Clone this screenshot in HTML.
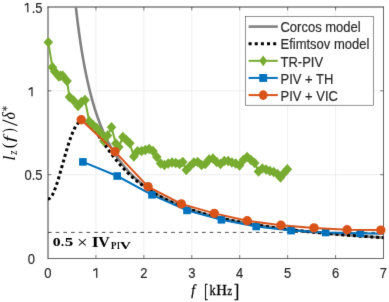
<!DOCTYPE html>
<html><head><meta charset="utf-8"><style>
html,body{margin:0;padding:0;background:#fff;}
body{width:389px;height:302px;overflow:hidden;}
svg{display:block;will-change:transform;}
text{font-family:"Liberation Sans",sans-serif;font-size:13px;fill:#262626;stroke:#262626;stroke-width:0.15px;}
</style></head><body><div>
<svg width="389" height="302" viewBox="0 0 389 302">
<defs><filter id="bl" x="0" y="0" width="1" height="1" color-interpolation-filters="sRGB"><feConvolveMatrix order="3" kernelMatrix="0.01 0.07 0.01 0.07 0.68 0.07 0.01 0.07 0.01" divisor="1" edgeMode="duplicate"/></filter><clipPath id="ax"><rect x="48.0" y="7.0" width="335.5" height="251.5"/></clipPath></defs>
<g filter="url(#bl)"><rect width="389" height="302" fill="#fff"/>
<g stroke="#e4e4e4" stroke-width="0.6"><line x1="95.93" y1="7.0" x2="95.93" y2="258.5"/><line x1="143.86" y1="7.0" x2="143.86" y2="258.5"/><line x1="191.79" y1="7.0" x2="191.79" y2="258.5"/><line x1="239.71" y1="7.0" x2="239.71" y2="258.5"/><line x1="287.64" y1="7.0" x2="287.64" y2="258.5"/><line x1="335.57" y1="7.0" x2="335.57" y2="258.5"/><line x1="48.0" y1="174.67" x2="383.5" y2="174.67"/><line x1="48.0" y1="90.83" x2="383.5" y2="90.83"/></g>
<g stroke="#262626" stroke-width="0.6"><line x1="95.93" y1="258.5" x2="95.93" y2="255.1"/><line x1="95.93" y1="7.0" x2="95.93" y2="10.4"/><line x1="143.86" y1="258.5" x2="143.86" y2="255.1"/><line x1="143.86" y1="7.0" x2="143.86" y2="10.4"/><line x1="191.79" y1="258.5" x2="191.79" y2="255.1"/><line x1="191.79" y1="7.0" x2="191.79" y2="10.4"/><line x1="239.71" y1="258.5" x2="239.71" y2="255.1"/><line x1="239.71" y1="7.0" x2="239.71" y2="10.4"/><line x1="287.64" y1="258.5" x2="287.64" y2="255.1"/><line x1="287.64" y1="7.0" x2="287.64" y2="10.4"/><line x1="335.57" y1="258.5" x2="335.57" y2="255.1"/><line x1="335.57" y1="7.0" x2="335.57" y2="10.4"/><line x1="48.0" y1="174.67" x2="51.4" y2="174.67"/><line x1="383.5" y1="174.67" x2="380.1" y2="174.67"/><line x1="48.0" y1="90.83" x2="51.4" y2="90.83"/><line x1="383.5" y1="90.83" x2="380.1" y2="90.83"/></g>
<g stroke="#262626"><line x1="48.0" y1="6.6" x2="48.0" y2="258.75" stroke-width="0.9"/><line x1="47.6" y1="7.0" x2="383.75" y2="7.0" stroke-width="0.9"/><line x1="383.5" y1="6.6" x2="383.5" y2="258.75" stroke-width="0.7"/><line x1="47.6" y1="258.5" x2="383.75" y2="258.5" stroke-width="0.7"/></g>
<g clip-path="url(#ax)" fill="none">
<polyline points="71.96,-33.91 72.77,-24.41 73.57,-15.51 74.38,-7.15 75.18,0.72 75.99,8.13 76.79,15.13 77.60,21.75 78.40,28.01 79.21,33.96 80.01,39.60 80.82,44.97 81.62,50.08 82.43,54.96 83.23,59.60 84.04,64.05 84.84,68.29 85.65,72.36 86.45,76.26 87.26,79.99 88.06,83.58 88.87,87.02 89.67,90.34 90.48,93.52 91.28,96.59 92.08,99.55 92.89,102.40 93.69,105.15 94.50,107.80 95.30,110.36 96.11,112.84 96.91,115.24 97.72,117.56 98.52,119.80 99.33,121.98 100.13,124.09 100.94,126.13 101.74,128.11 102.55,130.04 103.35,131.90 104.16,133.72 104.96,135.48 105.77,137.19 106.57,138.86 107.38,140.48 108.18,142.06 108.99,143.60 109.79,145.09 110.60,146.55 111.40,147.97 112.21,149.36 113.01,150.71 113.81,152.03 114.62,153.31 115.42,154.57 116.23,155.80 117.03,156.99 117.84,158.16 118.64,159.31 119.45,160.42 120.25,161.52 121.06,162.58 121.86,163.63 122.67,164.65 123.47,165.65 124.28,166.63 125.08,167.59 125.89,168.53 126.69,169.45 127.50,170.35 128.30,171.24 129.11,172.10 129.91,172.95 130.72,173.78 131.52,174.60 132.33,175.40 133.13,176.19 133.94,176.96 134.74,177.71 135.54,178.46 136.35,179.19 137.15,179.90 137.96,180.60 138.76,181.30 139.57,181.97 140.37,182.64 141.18,183.30 141.98,183.94 142.79,184.57 143.59,185.20 144.40,185.81 145.20,186.41 146.01,187.00 146.81,187.58 147.62,188.16 148.42,188.72 149.23,189.27 150.03,189.82 150.84,190.36 151.64,190.89 152.45,191.41 153.25,191.92 154.06,192.43 154.86,192.92 155.67,193.41 156.47,193.90 157.27,194.37 158.08,194.84 158.88,195.30 159.69,195.76 160.49,196.21 161.30,196.65 162.10,197.09 162.91,197.52 163.71,197.94 164.52,198.36 165.32,198.77 166.13,199.18 166.93,199.58 167.74,199.98 168.54,200.37 169.35,200.75 170.15,201.13 170.96,201.51 171.76,201.88 172.57,202.25 173.37,202.61 174.18,202.96 174.98,203.32 175.79,203.66 176.59,204.01 177.40,204.34 178.20,204.68 179.00,205.01 179.81,205.34 180.61,205.66 181.42,205.98 182.22,206.29 183.03,206.60 183.83,206.91 184.64,207.22 185.44,207.52 186.25,207.81 187.05,208.11 187.86,208.40 188.66,208.68 189.47,208.97 190.27,209.25 191.08,209.52 191.88,209.80 192.69,210.07 193.49,210.34 194.30,210.60 195.10,210.86 195.91,211.12 196.71,211.38 197.52,211.63 198.32,211.88 199.13,212.13 199.93,212.38 200.73,212.62 201.54,212.86 202.34,213.10 203.15,213.33 203.95,213.57 204.76,213.80 205.56,214.03 206.37,214.25 207.17,214.48 207.98,214.70 208.78,214.92 209.59,215.13 210.39,215.35 211.20,215.56 212.00,215.77 212.81,215.98 213.61,216.19 214.42,216.39 215.22,216.60 216.03,216.80 216.83,216.99 217.64,217.19 218.44,217.39 219.25,217.58 220.05,217.77 220.86,217.96 221.66,218.15 222.46,218.33 223.27,218.52 224.07,218.70 224.88,218.88 225.68,219.06 226.49,219.24 227.29,219.42 228.10,219.59 228.90,219.76 229.71,219.94 230.51,220.11 231.32,220.27 232.12,220.44 232.93,220.61 233.73,220.77 234.54,220.93 235.34,221.10 236.15,221.26 236.95,221.41 237.76,221.57 238.56,221.73 239.37,221.88 240.17,222.04 240.98,222.19 241.78,222.34 242.59,222.49 243.39,222.64 244.19,222.78 245.00,222.93 245.80,223.07 246.61,223.22 247.41,223.36 248.22,223.50 249.02,223.64 249.83,223.78 250.63,223.92 251.44,224.06 252.24,224.19 253.05,224.33 253.85,224.46 254.66,224.59 255.46,224.72 256.27,224.85 257.07,224.98 257.88,225.11 258.68,225.24 259.49,225.37 260.29,225.49 261.10,225.62 261.90,225.74 262.71,225.86 263.51,225.98 264.32,226.11 265.12,226.23 265.92,226.34 266.73,226.46 267.53,226.58 268.34,226.70 269.14,226.81 269.95,226.93 270.75,227.04 271.56,227.16 272.36,227.27 273.17,227.38 273.97,227.49 274.78,227.60 275.58,227.71 276.39,227.82 277.19,227.93 278.00,228.03 278.80,228.14 279.61,228.24 280.41,228.35 281.22,228.45 282.02,228.56 282.83,228.66 283.63,228.76 284.44,228.86 285.24,228.96 286.05,229.06 286.85,229.16 287.65,229.26 288.46,229.36 289.26,229.46 290.07,229.55 290.87,229.65 291.68,229.74 292.48,229.84 293.29,229.93 294.09,230.03 294.90,230.12 295.70,230.21 296.51,230.30 297.31,230.39 298.12,230.48 298.92,230.57 299.73,230.66 300.53,230.75 301.34,230.84 302.14,230.93 302.95,231.01 303.75,231.10 304.56,231.19 305.36,231.27 306.17,231.36 306.97,231.44 307.78,231.53 308.58,231.61 309.38,231.69 310.19,231.77 310.99,231.86 311.80,231.94 312.60,232.02 313.41,232.10 314.21,232.18 315.02,232.26 315.82,232.34 316.63,232.41 317.43,232.49 318.24,232.57 319.04,232.65 319.85,232.72 320.65,232.80 321.46,232.87 322.26,232.95 323.07,233.02 323.87,233.10 324.68,233.17 325.48,233.25 326.29,233.32 327.09,233.39 327.90,233.46 328.70,233.54 329.51,233.61 330.31,233.68 331.11,233.75 331.92,233.82 332.72,233.89 333.53,233.96 334.33,234.03 335.14,234.10 335.94,234.16 336.75,234.23 337.55,234.30 338.36,234.37 339.16,234.43 339.97,234.50 340.77,234.57 341.58,234.63 342.38,234.70 343.19,234.76 343.99,234.83 344.80,234.89 345.60,234.95 346.41,235.02 347.21,235.08 348.02,235.14 348.82,235.21 349.63,235.27 350.43,235.33 351.24,235.39 352.04,235.45 352.84,235.51 353.65,235.57 354.45,235.63 355.26,235.69 356.06,235.75 356.87,235.81 357.67,235.87 358.48,235.93 359.28,235.99 360.09,236.05 360.89,236.10 361.70,236.16 362.50,236.22 363.31,236.28 364.11,236.33 364.92,236.39 365.72,236.44 366.53,236.50 367.33,236.56 368.14,236.61 368.94,236.67 369.75,236.72 370.55,236.78 371.36,236.83 372.16,236.88 372.97,236.94 373.77,236.99 374.57,237.04 375.38,237.10 376.18,237.15 376.99,237.20 377.79,237.25 378.60,237.30 379.40,237.36 380.21,237.41 381.01,237.46 381.82,237.51 382.62,237.56 383.43,237.61 384.23,237.66 385.04,237.71 385.84,237.76 386.65,237.81 387.45,237.86 388.26,237.91 389.06,237.95 389.87,238.00 390.67,238.05 391.48,238.10 392.28,238.15 393.09,238.19" stroke="#808080" stroke-width="2.6"/>
<polyline points="48.00,198.95 48.24,198.94 48.48,198.90 48.72,198.83 48.96,198.74 49.20,198.63 49.44,198.49 49.68,198.32 49.92,198.13 50.16,197.92 50.40,197.68 50.64,197.42 50.89,197.13 51.13,196.82 51.37,196.49 51.61,196.13 51.85,195.75 52.09,195.36 52.33,194.94 52.57,194.49 52.81,194.03 53.05,193.55 53.29,193.05 53.53,192.53 53.77,192.00 54.01,191.44 54.25,190.87 54.49,190.28 54.73,189.68 54.97,189.06 55.21,188.43 55.45,187.78 55.69,187.11 55.93,186.44 56.18,185.75 56.42,185.05 56.66,184.33 56.90,183.61 57.14,182.87 57.38,182.12 57.62,181.37 57.86,180.60 58.10,179.83 58.34,179.04 58.58,178.25 58.82,177.45 59.06,176.65 59.30,175.84 59.54,175.02 59.78,174.19 60.02,173.36 60.26,172.53 60.50,171.69 60.74,170.85 60.98,170.00 61.22,169.15 61.46,168.30 61.71,167.45 61.95,166.59 62.19,165.73 62.43,164.88 62.67,164.02 62.91,163.16 63.15,162.30 63.39,161.44 63.63,160.58 63.87,159.73 64.11,158.87 64.35,158.02 64.59,157.17 64.83,156.32 65.07,155.48 65.31,154.64 65.55,153.80 65.79,152.97 66.03,152.15 66.27,151.33 66.51,150.51 66.75,149.70 67.00,148.89 67.24,148.10 67.48,147.31 67.72,146.52 67.96,145.75 68.20,144.98 68.44,144.22 68.68,143.47 68.92,142.72 69.16,141.99 69.40,141.27 69.64,140.55 69.88,139.85 70.12,139.15 70.36,138.47 70.60,137.80 70.84,137.13 71.08,136.48 71.32,135.84 71.56,135.22 71.80,134.60 72.04,134.00 72.28,133.40 72.53,132.82 72.77,132.26 73.01,131.70 73.25,131.16 73.49,130.64 73.73,130.12 73.97,129.62 74.21,129.13 74.45,128.66 74.69,128.20 74.93,127.75 75.17,127.32 75.41,126.90 75.65,126.50 75.89,126.11 76.13,125.73 76.37,125.37 76.61,125.02 76.85,124.69 77.09,124.37 77.33,124.06 77.57,123.77 77.82,123.49 78.06,123.23 78.30,122.98 78.54,122.74 78.78,122.52 79.02,122.31 79.26,122.11 79.50,121.93 79.74,121.76 79.98,121.61 80.22,121.47 80.46,121.34 80.70,121.22 80.94,121.12 81.18,121.03 81.42,120.95 81.66,120.88 81.90,120.83 82.14,120.78 82.38,120.75 82.62,120.73 82.86,120.73 83.10,120.73 83.35,120.74 83.59,120.77 83.83,120.81 84.07,120.85 84.31,120.91 84.55,120.98 84.79,121.05 85.03,121.14 85.27,121.23 85.51,121.34 85.75,121.45 85.99,121.58 86.23,121.71 86.47,121.85 86.71,122.00 86.95,122.15 87.19,122.32 87.43,122.49 87.67,122.67 87.91,122.85 88.15,123.05 88.39,123.25 88.64,123.46 88.88,123.67 89.12,123.89 89.36,124.11 89.60,124.35 89.84,124.58 90.08,124.83 90.32,125.07 90.56,125.33 90.80,125.59 91.04,125.85 91.28,126.12 91.52,126.39 91.76,126.67 92.00,126.95 92.24,127.23 92.48,127.52 92.72,127.82 92.96,128.11 93.20,128.41 93.44,128.71 93.68,129.02 93.92,129.33 94.17,129.64 94.41,129.96 94.65,130.27 94.89,130.59 95.13,130.92 95.37,131.24 95.61,131.57 95.85,131.90 96.09,132.23 96.33,132.56 96.57,132.89 96.81,133.23 97.05,133.57 97.29,133.90 97.53,134.24 97.77,134.59 98.01,134.93 98.25,135.27 98.49,135.61 98.73,135.96 98.97,136.31 99.21,136.65 99.46,137.00 99.70,137.35 99.94,137.70 100.18,138.04 100.42,138.39 100.66,138.74 100.90,139.09 101.14,139.44 101.38,139.79 101.62,140.14 101.86,140.49 102.10,140.84 102.34,141.19 102.58,141.54 102.82,141.89 103.06,142.24 103.30,142.59 103.54,142.93 103.78,143.28 104.02,143.63 104.26,143.98 104.50,144.32 104.74,144.67 104.99,145.01 105.23,145.36 105.47,145.70 105.71,146.05 105.95,146.39 106.19,146.73 106.43,147.07 106.67,147.41 106.91,147.75 107.15,148.09 107.39,148.43 107.63,148.76 107.87,149.10 108.11,149.43 108.35,149.77 108.59,150.10 108.83,150.43 109.07,150.76 109.31,151.09 109.55,151.42 109.79,151.75 110.03,152.08 110.28,152.40 110.52,152.73 110.76,153.05 111.00,153.37 111.24,153.69 111.48,154.01 111.72,154.33 111.96,154.65 112.20,154.97 112.44,155.28 112.68,155.59 112.92,155.91 113.16,156.22 113.40,156.53 113.64,156.84 113.88,157.15 114.12,157.45 114.36,157.76 114.60,158.06 114.84,158.37 115.08,158.67 115.32,158.97 115.56,159.27 115.81,159.56 116.05,159.86 116.29,160.16 116.53,160.45 116.77,160.74 117.01,161.03 117.25,161.32 117.49,161.61 117.73,161.90 117.97,162.19 118.21,162.47 118.45,162.76 118.69,163.04 118.93,163.32 119.17,163.60 119.41,163.88 119.65,164.16 119.89,164.43 121.27,165.99 122.64,167.50 124.01,168.98 125.38,170.41 126.76,171.81 128.13,173.17 129.50,174.49 130.88,175.78 132.25,177.03 133.62,178.26 134.99,179.44 136.37,180.60 137.74,181.73 139.11,182.82 140.49,183.89 141.86,184.93 143.23,185.95 144.60,186.94 145.98,187.90 147.35,188.84 148.72,189.76 150.10,190.65 151.47,191.52 152.84,192.37 154.21,193.20 155.59,194.01 156.96,194.81 158.33,195.58 159.70,196.33 161.08,197.07 162.45,197.79 163.82,198.50 165.20,199.19 166.57,199.86 167.94,200.52 169.31,201.17 170.69,201.80 172.06,202.42 173.43,203.02 174.81,203.61 176.18,204.19 177.55,204.76 178.92,205.32 180.30,205.86 181.67,206.40 183.04,206.92 184.42,207.43 185.79,207.94 187.16,208.43 188.53,208.92 189.91,209.39 191.28,209.86 192.65,210.32 194.03,210.77 195.40,211.21 196.77,211.64 198.14,212.07 199.52,212.48 200.89,212.89 202.26,213.30 203.64,213.69 205.01,214.08 206.38,214.47 207.75,214.84 209.13,215.21 210.50,215.58 211.87,215.93 213.25,216.28 214.62,216.63 215.99,216.97 217.36,217.31 218.74,217.64 220.11,217.96 221.48,218.28 222.85,218.60 224.23,218.90 225.60,219.21 226.97,219.51 228.35,219.81 229.72,220.10 231.09,220.38 232.46,220.67 233.84,220.95 235.21,221.22 236.58,221.49 237.96,221.76 239.33,222.02 240.70,222.28 242.07,222.54 243.45,222.79 244.82,223.04 246.19,223.28 247.57,223.52 248.94,223.76 250.31,224.00 251.68,224.23 253.06,224.46 254.43,224.68 255.80,224.91 257.18,225.13 258.55,225.34 259.92,225.56 261.29,225.77 262.67,225.98 264.04,226.18 265.41,226.39 266.79,226.59 268.16,226.79 269.53,226.98 270.90,227.18 272.28,227.37 273.65,227.56 275.02,227.75 276.40,227.93 277.77,228.11 279.14,228.29 280.51,228.47 281.89,228.65 283.26,228.82 284.63,228.99 286.01,229.16 287.38,229.33 288.75,229.50 290.12,229.66 291.50,229.82 292.87,229.98 294.24,230.14 295.61,230.30 296.99,230.46 298.36,230.61 299.73,230.76 301.11,230.91 302.48,231.06 303.85,231.21 305.22,231.35 306.60,231.50 307.97,231.64 309.34,231.78 310.72,231.92 312.09,232.06 313.46,232.19 314.83,232.33 316.21,232.46 317.58,232.60 318.95,232.73 320.33,232.86 321.70,232.99 323.07,233.11 324.44,233.24 325.82,233.36 327.19,233.49 328.56,233.61 329.94,233.73 331.31,233.85 332.68,233.97 334.05,234.09 335.43,234.20 336.80,234.32 338.17,234.43 339.55,234.55 340.92,234.66 342.29,234.77 343.66,234.88 345.04,234.99 346.41,235.10 347.78,235.20 349.16,235.31 350.53,235.42 351.90,235.52 353.27,235.62 354.65,235.73 356.02,235.83 357.39,235.93 358.77,236.03 360.14,236.13 361.51,236.22 362.88,236.32 364.26,236.42 365.63,236.51 367.00,236.61 368.37,236.70 369.75,236.79 371.12,236.89 372.49,236.98 373.87,237.07 375.24,237.16 376.61,237.25 377.98,237.34 379.36,237.42 380.73,237.51 382.10,237.60 383.48,237.68 384.85,237.77 386.22,237.85 387.59,237.93 388.97,238.02 390.34,238.10 391.71,238.18 393.09,238.26" stroke="#000" stroke-width="3" stroke-dasharray="3 2.83" stroke-dashoffset="0.37"/>
</g>
<line x1="48.0" y1="232.4" x2="383.5" y2="232.4" stroke="#333" stroke-width="0.9" stroke-dasharray="3.6 4.1"/>
<polyline points="48.30,42.20 52.40,67.20 54.70,71.60 58.90,76.40 60.80,75.80 62.80,75.90 67.00,81.00 69.50,97.00 73.50,100.50 78.00,106.00 81.50,102.00 85.00,100.00 89.20,121.20 93.00,125.00 96.80,128.00 100.50,133.00 103.80,141.00 107.50,135.50 111.50,127.20 115.80,143.50 118.80,147.00 122.90,137.00 126.30,140.00 129.80,143.30 133.80,156.50 137.50,151.30 141.60,151.00 145.40,150.00 149.20,149.00 153.00,151.00 156.80,157.00 160.60,163.50 164.40,165.00 168.20,163.50 172.00,162.50 175.80,163.00 179.60,164.00 182.80,162.00 186.30,170.00 190.10,166.00 193.90,162.50 197.70,162.00 201.50,165.00 205.30,164.00 209.10,159.50 212.90,158.50 216.70,162.00 220.50,164.00 224.30,161.00 228.10,161.00 231.90,162.50 235.70,163.50 239.50,165.50 243.30,160.00 247.10,157.00 250.90,160.00 254.70,163.00 258.50,171.50 262.30,168.50 266.10,169.50 269.90,171.00 273.70,172.00 277.50,174.00 280.50,177.50 284.00,173.00 287.30,169.30" fill="none" stroke="#77AC30" stroke-width="2"/>
<g fill="#77AC30"><path d="M48.30 36.90L53.10 42.20L48.30 47.50L43.50 42.20Z"/><path d="M52.40 61.90L57.20 67.20L52.40 72.50L47.60 67.20Z"/><path d="M54.70 66.30L59.50 71.60L54.70 76.90L49.90 71.60Z"/><path d="M58.90 71.10L63.70 76.40L58.90 81.70L54.10 76.40Z"/><path d="M60.80 70.50L65.60 75.80L60.80 81.10L56.00 75.80Z"/><path d="M62.80 70.60L67.60 75.90L62.80 81.20L58.00 75.90Z"/><path d="M67.00 75.70L71.80 81.00L67.00 86.30L62.20 81.00Z"/><path d="M69.50 91.70L74.30 97.00L69.50 102.30L64.70 97.00Z"/><path d="M73.50 95.20L78.30 100.50L73.50 105.80L68.70 100.50Z"/><path d="M78.00 100.70L82.80 106.00L78.00 111.30L73.20 106.00Z"/><path d="M81.50 96.70L86.30 102.00L81.50 107.30L76.70 102.00Z"/><path d="M85.00 94.70L89.80 100.00L85.00 105.30L80.20 100.00Z"/><path d="M89.20 115.90L94.00 121.20L89.20 126.50L84.40 121.20Z"/><path d="M93.00 119.70L97.80 125.00L93.00 130.30L88.20 125.00Z"/><path d="M96.80 122.70L101.60 128.00L96.80 133.30L92.00 128.00Z"/><path d="M100.50 127.70L105.30 133.00L100.50 138.30L95.70 133.00Z"/><path d="M103.80 135.70L108.60 141.00L103.80 146.30L99.00 141.00Z"/><path d="M107.50 130.20L112.30 135.50L107.50 140.80L102.70 135.50Z"/><path d="M111.50 121.90L116.30 127.20L111.50 132.50L106.70 127.20Z"/><path d="M115.80 138.20L120.60 143.50L115.80 148.80L111.00 143.50Z"/><path d="M118.80 141.70L123.60 147.00L118.80 152.30L114.00 147.00Z"/><path d="M122.90 131.70L127.70 137.00L122.90 142.30L118.10 137.00Z"/><path d="M126.30 134.70L131.10 140.00L126.30 145.30L121.50 140.00Z"/><path d="M129.80 138.00L134.60 143.30L129.80 148.60L125.00 143.30Z"/><path d="M133.80 151.20L138.60 156.50L133.80 161.80L129.00 156.50Z"/><path d="M137.50 146.00L142.30 151.30L137.50 156.60L132.70 151.30Z"/><path d="M141.60 145.70L146.40 151.00L141.60 156.30L136.80 151.00Z"/><path d="M145.40 144.70L150.20 150.00L145.40 155.30L140.60 150.00Z"/><path d="M149.20 143.70L154.00 149.00L149.20 154.30L144.40 149.00Z"/><path d="M153.00 145.70L157.80 151.00L153.00 156.30L148.20 151.00Z"/><path d="M156.80 151.70L161.60 157.00L156.80 162.30L152.00 157.00Z"/><path d="M160.60 158.20L165.40 163.50L160.60 168.80L155.80 163.50Z"/><path d="M164.40 159.70L169.20 165.00L164.40 170.30L159.60 165.00Z"/><path d="M168.20 158.20L173.00 163.50L168.20 168.80L163.40 163.50Z"/><path d="M172.00 157.20L176.80 162.50L172.00 167.80L167.20 162.50Z"/><path d="M175.80 157.70L180.60 163.00L175.80 168.30L171.00 163.00Z"/><path d="M179.60 158.70L184.40 164.00L179.60 169.30L174.80 164.00Z"/><path d="M182.80 156.70L187.60 162.00L182.80 167.30L178.00 162.00Z"/><path d="M186.30 164.70L191.10 170.00L186.30 175.30L181.50 170.00Z"/><path d="M190.10 160.70L194.90 166.00L190.10 171.30L185.30 166.00Z"/><path d="M193.90 157.20L198.70 162.50L193.90 167.80L189.10 162.50Z"/><path d="M197.70 156.70L202.50 162.00L197.70 167.30L192.90 162.00Z"/><path d="M201.50 159.70L206.30 165.00L201.50 170.30L196.70 165.00Z"/><path d="M205.30 158.70L210.10 164.00L205.30 169.30L200.50 164.00Z"/><path d="M209.10 154.20L213.90 159.50L209.10 164.80L204.30 159.50Z"/><path d="M212.90 153.20L217.70 158.50L212.90 163.80L208.10 158.50Z"/><path d="M216.70 156.70L221.50 162.00L216.70 167.30L211.90 162.00Z"/><path d="M220.50 158.70L225.30 164.00L220.50 169.30L215.70 164.00Z"/><path d="M224.30 155.70L229.10 161.00L224.30 166.30L219.50 161.00Z"/><path d="M228.10 155.70L232.90 161.00L228.10 166.30L223.30 161.00Z"/><path d="M231.90 157.20L236.70 162.50L231.90 167.80L227.10 162.50Z"/><path d="M235.70 158.20L240.50 163.50L235.70 168.80L230.90 163.50Z"/><path d="M239.50 160.20L244.30 165.50L239.50 170.80L234.70 165.50Z"/><path d="M243.30 154.70L248.10 160.00L243.30 165.30L238.50 160.00Z"/><path d="M247.10 151.70L251.90 157.00L247.10 162.30L242.30 157.00Z"/><path d="M250.90 154.70L255.70 160.00L250.90 165.30L246.10 160.00Z"/><path d="M254.70 157.70L259.50 163.00L254.70 168.30L249.90 163.00Z"/><path d="M258.50 166.20L263.30 171.50L258.50 176.80L253.70 171.50Z"/><path d="M262.30 163.20L267.10 168.50L262.30 173.80L257.50 168.50Z"/><path d="M266.10 164.20L270.90 169.50L266.10 174.80L261.30 169.50Z"/><path d="M269.90 165.70L274.70 171.00L269.90 176.30L265.10 171.00Z"/><path d="M273.70 166.70L278.50 172.00L273.70 177.30L268.90 172.00Z"/><path d="M277.50 168.70L282.30 174.00L277.50 179.30L272.70 174.00Z"/><path d="M280.50 172.20L285.30 177.50L280.50 182.80L275.70 177.50Z"/><path d="M284.00 167.70L288.80 173.00L284.00 178.30L279.20 173.00Z"/><path d="M287.30 164.00L292.10 169.30L287.30 174.60L282.50 169.30Z"/></g>
<g clip-path="url(#ax)"><polyline points="82.90,161.90 117.20,176.00 152.00,194.80 187.00,210.40 221.40,219.80 256.20,226.50 291.10,230.60 325.70,232.50 360.30,233.30 395.00,234.00" fill="none" stroke="#0072BD" stroke-width="2"/></g>
<g fill="#0072BD"><rect x="79.10" y="158.10" width="7.60" height="7.60"/><rect x="113.40" y="172.20" width="7.60" height="7.60"/><rect x="148.20" y="191.00" width="7.60" height="7.60"/><rect x="183.20" y="206.60" width="7.60" height="7.60"/><rect x="217.60" y="216.00" width="7.60" height="7.60"/><rect x="252.40" y="222.70" width="7.60" height="7.60"/><rect x="287.30" y="226.80" width="7.60" height="7.60"/><rect x="321.90" y="228.70" width="7.60" height="7.60"/><rect x="356.50" y="229.50" width="7.60" height="7.60"/></g>
<polyline points="81.20,119.80 115.00,151.60 148.00,186.60 181.30,203.90 214.30,213.40 247.20,220.70 280.90,225.20 314.00,227.90 347.10,229.70 380.80,230.10" fill="none" stroke="#D95319" stroke-width="2"/>
<g fill="#D95319"><circle cx="81.20" cy="119.80" r="4.7"/><circle cx="115.00" cy="151.60" r="4.7"/><circle cx="148.00" cy="186.60" r="4.7"/><circle cx="181.30" cy="203.90" r="4.7"/><circle cx="214.30" cy="213.40" r="4.7"/><circle cx="247.20" cy="220.70" r="4.7"/><circle cx="280.90" cy="225.20" r="4.7"/><circle cx="314.00" cy="227.90" r="4.7"/><circle cx="347.10" cy="229.70" r="4.7"/><circle cx="380.80" cy="230.10" r="4.7"/></g>
<rect x="245.6" y="16.7" width="127.9" height="88.5" fill="#fff" stroke="#262626" stroke-width="0.5"/><line x1="248.6" y1="26.6" x2="277.8" y2="26.6" stroke="#808080" stroke-width="2.6"/><line x1="248.6" y1="43.72" x2="277.8" y2="43.72" stroke="#000" stroke-width="3" stroke-dasharray="3 3.15"/><g fill="#77AC30"><line x1="248.6" y1="60.84" x2="277.8" y2="60.84" stroke="#77AC30" stroke-width="2"/><path d="M263.20 55.54L267.10 60.84L263.20 66.14L259.30 60.84Z"/></g><g fill="#0072BD"><line x1="248.6" y1="77.96000000000001" x2="277.8" y2="77.96000000000001" stroke="#0072BD" stroke-width="2"/><rect x="259.25" y="74.01" width="7.90" height="7.90"/></g><g fill="#D95319"><line x1="248.6" y1="95.08000000000001" x2="277.8" y2="95.08000000000001" stroke="#D95319" stroke-width="2"/><ellipse cx="263.2" cy="95.08000000000001" rx="4.35" ry="4.85"/></g><text transform="matrix(1,0,0,1.1,0,-2.750)" x="280.5" y="31.90">Corcos model</text><text transform="matrix(1,0,0,1.1,0,-4.462)" x="280.5" y="49.02">Efimtsov model</text><text transform="matrix(1,0,0,1.1,0,-6.174)" x="280.5" y="66.14">TR-PIV</text><text transform="matrix(1,0,0,1.1,0,-7.886)" x="280.5" y="83.26">PIV + TH</text><text transform="matrix(1,0,0,1.1,0,-9.598)" x="280.5" y="100.38">PIV + VIC</text>
<text transform="matrix(1,0,0,1.1,0,-27.300)" x="48.00" y="277.5" text-anchor="middle">0</text><text transform="matrix(1,0,0,1.1,0,-27.300)" x="143.86" y="277.5" text-anchor="middle">2</text><text transform="matrix(1,0,0,1.1,0,-27.300)" x="191.79" y="277.5" text-anchor="middle">3</text><text transform="matrix(1,0,0,1.1,0,-27.300)" x="239.71" y="277.5" text-anchor="middle">4</text><text transform="matrix(1,0,0,1.1,0,-27.300)" x="287.64" y="277.5" text-anchor="middle">5</text><text transform="matrix(1,0,0,1.1,0,-27.300)" x="335.57" y="277.5" text-anchor="middle">6</text><text transform="matrix(1,0,0,1.1,0,-27.300)" x="383.50" y="277.5" text-anchor="middle">7</text>
<text transform="matrix(1,0,0,1.1,0,-25.910)" x="34.9" y="263.80" text-anchor="end">0</text><text transform="matrix(1,0,0,1.1,0,-17.527)" x="42.5" y="179.97" text-anchor="end">0.5</text><text transform="matrix(1,0,0,1.1,0,-0.760)" x="42.5" y="12.30" text-anchor="end">.5</text>
<path d="M27.80 3.00V12.30M27.60 3.35L24.80 5.30" stroke="#262626" stroke-width="1.25" fill="none"/><path d="M32.00 87.30V96.30M31.80 87.65L28.70 89.60" stroke="#262626" stroke-width="1.25" fill="none"/><path d="M96.73 268.20V277.70M96.53 268.55L93.30 270.60" stroke="#262626" stroke-width="1.25" fill="none"/>
<text transform="matrix(0.8870,0,0,0.9309,191.217,294.571)" style="font-family:'Liberation Serif',serif;font-size:15px;font-style:italic;fill:#000;stroke:#000;stroke-width:0.3px">f</text><text transform="matrix(0.7463,0,0,1.2742,204.329,297.302)" style="font-family:'Liberation Serif',serif;font-size:15px;fill:#000;stroke:#000;stroke-width:0.3px">[</text><text transform="matrix(0.8194,0,0,1.0096,209.604,295.250)" style="font-family:'Liberation Serif',serif;font-size:15px;fill:#000;stroke:#000;stroke-width:0.3px">k</text><text transform="matrix(0.9849,0,0,0.9898,216.307,295.250)" style="font-family:'Liberation Serif',serif;font-size:15px;fill:#000;stroke:#000;stroke-width:0.3px">H</text><text transform="matrix(0.7521,0,0,0.8406,227.249,295.250)" style="font-family:'Liberation Serif',serif;font-size:15px;fill:#000;stroke:#000;stroke-width:0.3px">z</text><text transform="matrix(1.0448,0,0,1.2742,233.975,297.302)" style="font-family:'Liberation Serif',serif;font-size:15px;fill:#000;stroke:#000;stroke-width:0.3px">]</text><text transform="matrix(0,-1.1212,1.0131,0,14.650,160.659)" style="font-family:'Liberation Serif',serif;font-size:16.5px;font-style:italic;fill:#000;stroke:#000;stroke-width:0px">l</text><text transform="matrix(0,-0.9438,1.0943,0,16.750,154.708)" style="font-family:'Liberation Serif',serif;font-size:11.5px;font-style:italic;fill:#000;stroke:#000;stroke-width:0px">z</text><text transform="matrix(0,-0.9412,1.0435,0,14.098,148.309)" style="font-family:'Liberation Serif',serif;font-size:16.5px;fill:#000;stroke:#000;stroke-width:0px">(</text><text transform="matrix(0,-1.2857,0.9272,0,13.705,142.007)" style="font-family:'Liberation Serif',serif;font-size:16.5px;font-style:italic;fill:#000;stroke:#000;stroke-width:0px">f</text><text transform="matrix(0,-0.7619,1.0435,0,14.098,132.569)" style="font-family:'Liberation Serif',serif;font-size:16.5px;fill:#000;stroke:#000;stroke-width:0px">)</text><text transform="matrix(0,-0.9595,1.1026,0,14.985,119.430)" style="font-family:'Liberation Serif',serif;font-size:16.5px;font-style:italic;fill:#000;stroke:#000;stroke-width:0px">δ</text><text transform="matrix(0,-0.9247,1.2143,0,12.218,111.259)" style="font-family:'Liberation Serif',serif;font-size:11.5px;fill:#000;stroke:#000;stroke-width:0px">*</text><line x1="2.5" y1="120.1" x2="17.4" y2="125.5" stroke="#000" stroke-width="1.1"/><text transform="matrix(1.1652,0,0,0.8962,52.767,246.216)" style="font-family:'Liberation Serif',serif;font-size:13.5px;font-weight:bold;fill:#000;stroke:#000;stroke-width:0.05px">0</text><text transform="matrix(0.9091,0,0,1.0000,60.905,246.150)" style="font-family:'Liberation Serif',serif;font-size:13.5px;font-weight:bold;fill:#000;stroke:#000;stroke-width:0.05px">.</text><text transform="matrix(1.2632,0,0,0.9111,64.855,246.213)" style="font-family:'Liberation Serif',serif;font-size:13.5px;font-weight:bold;fill:#000;stroke:#000;stroke-width:0.05px">5</text><text transform="matrix(1.3945,0,0,1.2661,76.916,247.566)" style="font-family:'Liberation Serif',serif;font-size:13.5px;fill:#000;stroke:#000;stroke-width:0.05px">×</text><text transform="matrix(1.3333,0,0,1.0621,91.750,246.550)" style="font-family:'Liberation Serif',serif;font-size:13.5px;font-weight:bold;fill:#000;stroke:#000;stroke-width:0.05px">I</text><text transform="matrix(1.1746,0,0,1.0608,98.274,246.538)" style="font-family:'Liberation Serif',serif;font-size:13.5px;font-weight:bold;fill:#000;stroke:#000;stroke-width:0.05px">V</text><text transform="matrix(0.8947,0,0,1.0534,111.016,248.950)" style="font-family:'Liberation Serif',serif;font-size:10px;font-weight:bold;fill:#000;stroke:#000;stroke-width:0.05px">P</text><text transform="matrix(0.7187,0,0,1.0534,116.898,248.950)" style="font-family:'Liberation Serif',serif;font-size:10px;font-weight:bold;fill:#000;stroke:#000;stroke-width:0.05px">I</text><text transform="matrix(1.5143,0,0,1.0448,119.999,248.893)" style="font-family:'Liberation Serif',serif;font-size:10px;font-weight:bold;fill:#000;stroke:#000;stroke-width:0.05px">V</text>
</g></svg></div>
</body></html>
